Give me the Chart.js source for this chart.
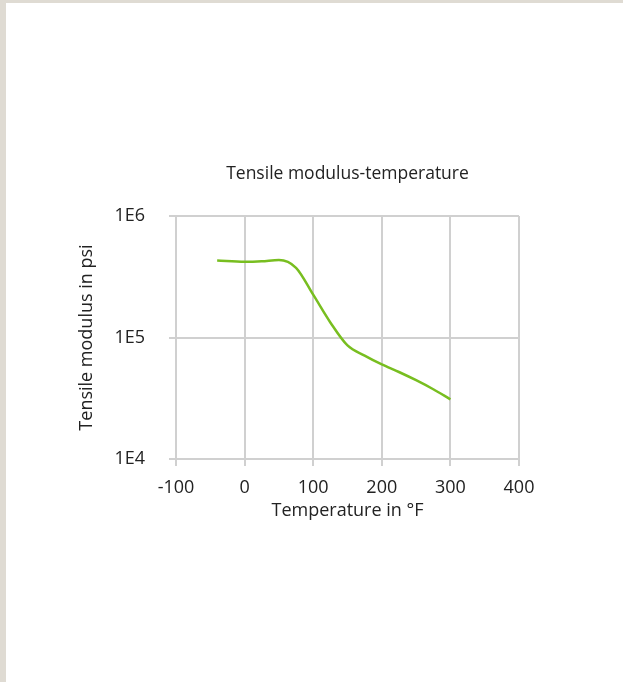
<!DOCTYPE html>
<html>
<head>
<meta charset="utf-8">
<script src="https://cdn.jsdelivr.net/npm/chart.js@4"></script>
<style>
  html, body { margin: 0; padding: 0; background: #dfdbd3; }
  #wrap { position: absolute; left: 6px; top: 3px; width: 617px; height: 679px; background: #fff; }
</style>
</head>
<body>
<div id="wrap"><canvas id="chart" width="617" height="679"></canvas></div>
<script>
// temperature (°F) and tensile modulus (psi)
const temps = [-40, 0, 25, 50, 75, 100, 125, 150, 175, 200, 225, 250, 275, 300];
const moduli = [430000, 420000, 424000, 435000, 375000, 225000, 133000, 86000, 71000, 60000, 52000, 44500, 37500, 31000];
const xTicks = [-100, 0, 100, 200, 300, 400];
const yTicks = [1e4, 1e5, 1e6];
const yTickLabels = ['1E4', '1E5', '1E6'];

const gridColor = '#d0d0d0';
const font = { family: 'Open Sans', size: 18, weight: 'normal' };

const ctx = document.getElementById('chart').getContext('2d');

new Chart(ctx, {
    type: 'line',
    data: {
        datasets: [{
            label: 'Tensile modulus',
            data: temps.map((t, i) => ({ x: t, y: moduli[i] })),
            borderColor: '#78be20',
            borderWidth: 2.5,
            pointRadius: 0,
            cubicInterpolationMode: 'monotone',
            fill: false
        }]
    },
    options: {
        responsive: false,
        animation: false,
        layout: { padding: { left: 66, right: 104, top: 151, bottom: 156 } },
        plugins: {
            legend: { display: false },
            tooltip: { enabled: false },
            title: {
                display: true,
                fullSize: false,
                text: 'Tensile modulus-temperature',
                color: '#222',
                font: { family: 'Open Sans', size: 17.5, weight: 'normal' },
                padding: { top: 10, bottom: 31 }
            }
        },
        scales: {
            x: {
                type: 'linear',
                min: -100,
                max: 400,
                afterBuildTicks: s => { s.ticks = xTicks.map(v => ({ value: v })); },
                afterFit: s => { s.height = 67; },
                grid: { color: gridColor, lineWidth: 2, tickLength: 7, tickColor: gridColor },
                border: { color: gridColor, width: 2 },
                ticks: { color: '#222', font: font, padding: 11, maxRotation: 0 },
                title: { display: true, text: 'Temperature in °F', color: '#222', font: font }
            },
            y: {
                type: 'logarithmic',
                min: 1e4,
                max: 1e6,
                afterBuildTicks: s => { s.ticks = yTicks.map(v => ({ value: v })); },
                afterFit: s => { s.width = 104; },
                grid: { color: gridColor, lineWidth: 2, tickLength: 7, tickColor: gridColor },
                border: { color: gridColor, width: 2 },
                ticks: {
                    color: '#222',
                    font: font,
                    padding: 24,
                    callback: v => yTickLabels[yTicks.indexOf(v)]
                },
                title: { display: true, text: 'Tensile modulus in psi', color: '#222', font: font }
            }
        }
    }
});
</script>
</body>
</html>
